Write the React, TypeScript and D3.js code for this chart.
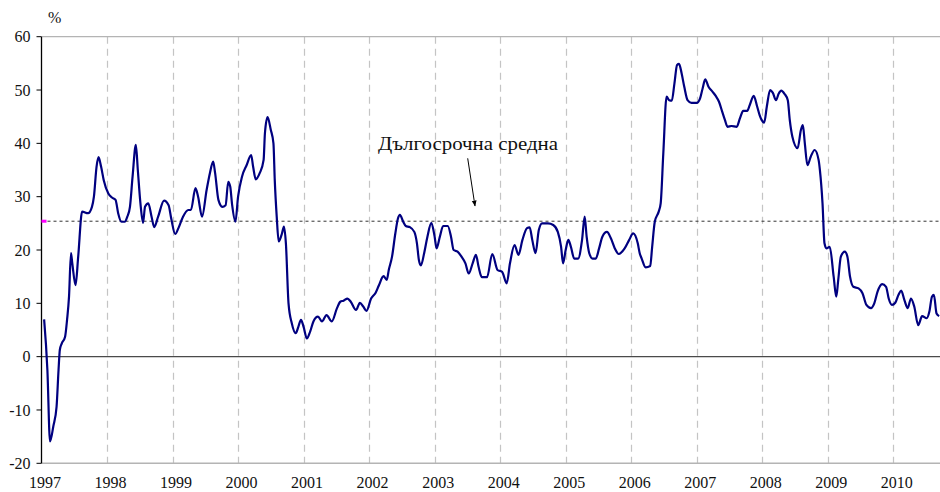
import * as d3 from 'd3';
import { useEffect, useRef } from 'react';

// decimal year of each point
const years = [
  1997.04, 1997.09, 1997.13, 1997.18, 1997.23, 1997.26, 1997.28, 1997.31, 1997.36, 1997.39,
  1997.42, 1997.45, 1997.47, 1997.52, 1997.56, 1997.62, 1997.71, 1997.77, 1997.80, 1997.84,
  1997.87, 1997.91, 1997.95, 1998.02, 1998.08, 1998.13, 1998.17, 1998.22, 1998.27, 1998.31,
  1998.35, 1998.39, 1998.44, 1998.47, 1998.51, 1998.55, 1998.58, 1998.63, 1998.68, 1998.72,
  1998.78, 1998.87, 1998.94, 1998.98, 1999.04, 1999.09, 1999.16, 1999.24, 1999.28, 1999.35,
  1999.39, 1999.45, 1999.52, 1999.57, 1999.62, 1999.65, 1999.70, 1999.76, 1999.81, 1999.85,
  1999.88, 1999.91, 1999.96, 2000.00, 2000.06, 2000.13, 2000.20, 2000.23, 2000.27, 2000.33,
  2000.39, 2000.41, 2000.45, 2000.50, 2000.54, 2000.56, 2000.59, 2000.62, 2000.67, 2000.70,
  2000.73, 2000.77, 2000.82, 2000.88, 2000.92, 2000.96, 2001.00, 2001.05, 2001.10, 2001.15,
  2001.22, 2001.28, 2001.35, 2001.43, 2001.51, 2001.56, 2001.61, 2001.67, 2001.72, 2001.80,
  2001.86, 2001.91, 2001.96, 2002.03, 2002.10, 2002.15, 2002.22, 2002.27, 2002.30, 2002.35,
  2002.40, 2002.44, 2002.47, 2002.52, 2002.56, 2002.62, 2002.69, 2002.73, 2002.76, 2002.79,
  2002.84, 2002.89, 2002.95, 2003.00, 2003.03, 2003.08, 2003.13, 2003.20, 2003.25, 2003.29,
  2003.35, 2003.41, 2003.47, 2003.52, 2003.58, 2003.63, 2003.67, 2003.72, 2003.80, 2003.88,
  2003.96, 2004.03, 2004.10, 2004.15, 2004.22, 2004.28, 2004.34, 2004.41, 2004.45, 2004.49,
  2004.54, 2004.59, 2004.64, 2004.73, 2004.81, 2004.88, 2004.93, 2004.96, 2005.00, 2005.04,
  2005.08, 2005.13, 2005.19, 2005.25, 2005.29, 2005.32, 2005.36, 2005.41, 2005.46, 2005.51,
  2005.56, 2005.63, 2005.69, 2005.75, 2005.81, 2005.90, 2005.97, 2006.03, 2006.10, 2006.13,
  2006.16, 2006.22, 2006.29, 2006.32, 2006.36, 2006.42, 2006.45, 2006.49, 2006.54, 2006.58,
  2006.62, 2006.66, 2006.70, 2006.73, 2006.77, 2006.81, 2006.86, 2006.92, 2007.00, 2007.05,
  2007.09, 2007.13, 2007.18, 2007.24, 2007.29, 2007.34, 2007.39, 2007.43, 2007.47, 2007.53,
  2007.61, 2007.66, 2007.71, 2007.77, 2007.81, 2007.87, 2007.92, 2007.96, 2007.99, 2008.03,
  2008.07, 2008.12, 2008.16, 2008.21, 2008.25, 2008.29, 2008.34, 2008.39, 2008.42, 2008.46,
  2008.54, 2008.59, 2008.62, 2008.65, 2008.69, 2008.74, 2008.80, 2008.86, 2008.88, 2008.92,
  2008.95, 2008.98, 2009.03, 2009.09, 2009.13, 2009.16, 2009.20, 2009.26, 2009.30, 2009.34,
  2009.39, 2009.47, 2009.53, 2009.59, 2009.66, 2009.71, 2009.76, 2009.83, 2009.89, 2009.93,
  2009.98, 2010.03, 2010.08, 2010.12, 2010.17, 2010.22, 2010.27, 2010.32, 2010.38, 2010.44,
  2010.51, 2010.55, 2010.59, 2010.62, 2010.66, 2010.70,
];

// growth, %
const growth = [
  7.0, -2.5, -15.9, -13.1, -9.4, -2.5, 1.3, 2.5, 3.75, 6.9,
  11.25, 19.4, 17.5, 13.4, 18.75, 27.2, 26.9, 28.1, 30, 35.6,
  37.4, 35.6, 33.1, 30.6, 29.8, 29.4, 26.9, 25.3, 25.3, 26.25,
  28.1, 33.75, 39.7, 35, 28.75, 25.1, 28.1, 28.75, 26.25, 24.3,
  26.25, 29.25, 28.4, 25.9, 23, 24.1, 26.25, 27.5, 27.5, 31.6,
  30, 26.25, 31.25, 34.4, 36.6, 34.4, 29.4, 28.1, 28.4, 32.8,
  31.9, 28.4, 25.3, 30, 33.75, 35.9, 37.8, 35.6, 33.25, 34.4,
  36.9, 41.9, 44.9, 42.5, 40, 33.1, 26.25, 21.6, 23.1, 24.4,
  21.25, 10, 6.25, 4.4, 5.6, 6.9, 5.6, 3.4, 4.7, 6.6,
  7.5, 6.6, 7.8, 6.6, 9.1, 10.3, 10.5, 10.9, 10.3, 8.75,
  10.1, 9.4, 8.6, 10.9, 12, 13.4, 15.1, 14.4, 16.25, 18.75,
  23.1, 25.9, 26.6, 25.3, 24.5, 24.3, 23.4, 21.25, 18.1, 17.1,
  19.4, 22.5, 25.1, 22.5, 20.3, 22.5, 24.5, 24.5, 22.5, 20,
  19.7, 18.75, 17.5, 15.6, 17.5, 19.1, 16.9, 14.9, 14.9, 19.25,
  16.25, 15.9, 13.75, 17.5, 20.9, 19.1, 21.9, 24.1, 24.25, 21.9,
  19.4, 23.75, 25, 25, 24.7, 23.4, 20.6, 17.5, 20, 21.9,
  20.6, 18.4, 18.4, 21.9, 26.25, 22.5, 19.4, 18.4, 18.4, 20.3,
  22.5, 23.4, 22.2, 20.3, 19.25, 20.3, 21.9, 23.1, 21.25, 19.4,
  18.4, 16.75, 17, 20.6, 25.3, 27.2, 28.75, 38.1, 48.75, 48.1,
  48, 51.25, 54.7, 54.9, 53.1, 50.6, 48.1, 47.6, 47.6, 48.4,
  50.3, 52, 50.6, 49.7, 48.9, 47.8, 45.9, 44.4, 43.1, 43.25,
  43.1, 44.7, 46.1, 46.1, 47.2, 48.9, 47, 45.3, 44.4, 43.9,
  46.9, 50, 49.5, 48.1, 49.3, 49.9, 49.3, 48.1, 44.4, 41.25,
  39.1, 42.5, 43.4, 40, 35.9, 37.5, 38.75, 36.9, 35, 28.75,
  21.25, 20.3, 20.6, 15, 11.25, 14.4, 18.75, 19.7, 18.75, 15,
  13.1, 12.8, 11.9, 9.7, 9.1, 10, 12.2, 13.6, 13.1, 10.9,
  9.7, 10.1, 11.6, 12.4, 10.6, 9.1, 10.9, 9.4, 5.9, 7.6,
  7.2, 8.4, 11.25, 11.6, 8.1, 7.6,
];

const yearTicks = [1997, 1998, 1999, 2000, 2001, 2002, 2003, 2004, 2005, 2006, 2007, 2008, 2009, 2010];
const valueTicks = [-20, -10, 0, 10, 20, 30, 40, 50, 60];
const longTermAverage = 25.4;
const averageLabel = 'Дългосрочна средна';

export default function App() {
  const svgRef = useRef<SVGSVGElement | null>(null);

  useEffect(() => {
    const W = 940, H = 492;
    const svg = d3.select(svgRef.current);
    svg.selectAll('*').remove();

    const x = d3.scaleLinear().domain([1997, 2010.713]).range([41.5, 940]);
    const y = d3.scaleLinear().domain([-20, 60]).range([463.3, 36.7]);
    const font = '"Liberation Serif", "Times New Roman", serif';

    // vertical dashed gridlines
    svg.append('g')
      .selectAll('line')
      .data(yearTicks.slice(1))
      .enter()
      .append('line')
      .attr('x1', d => Math.round(x(d)) + 0.5).attr('x2', d => Math.round(x(d)) + 0.5)
      .attr('y1', y(60)).attr('y2', y(-20))
      .attr('stroke', '#c4c4c4').attr('stroke-width', 1.2)
      .attr('stroke-dasharray', '7,5');

    // top / bottom frame lines
    svg.append('line')
      .attr('x1', x(1997)).attr('x2', W).attr('y1', y(60)).attr('y2', y(60))
      .attr('stroke', '#b4b4b4').attr('stroke-width', 1.2);
    svg.append('line')
      .attr('x1', x(1997)).attr('x2', W).attr('y1', y(-20)).attr('y2', y(-20))
      .attr('stroke', '#b4b4b4').attr('stroke-width', 1.5);

    // zero line
    svg.append('line')
      .attr('x1', x(1997)).attr('x2', W).attr('y1', y(0)).attr('y2', y(0))
      .attr('stroke', '#4a4a4a').attr('stroke-width', 1.3);

    // y axis
    const yAxis = svg.append('g').attr('transform', `translate(${x(1997)},0)`);
    yAxis.append('line').attr('y1', y(60)).attr('y2', y(-20)).attr('stroke', '#000').attr('stroke-width', 1.3);
    yAxis.selectAll('line.tick')
      .data(valueTicks)
      .enter()
      .append('line')
      .attr('class', 'tick')
      .attr('x1', -5).attr('x2', 0)
      .attr('y1', d => y(d)).attr('y2', d => y(d))
      .attr('stroke', '#000').attr('stroke-width', 1);
    yAxis.selectAll('text')
      .data(valueTicks)
      .enter()
      .append('text')
      .attr('x', -11).attr('y', d => y(d)).attr('dy', '0.35em')
      .attr('text-anchor', 'end')
      .attr('font-family', font).attr('font-size', 16).attr('fill', '#111')
      .text(d => d);

    // x labels
    svg.append('g')
      .selectAll('text')
      .data(yearTicks)
      .enter()
      .append('text')
      .attr('x', d => x(d) + 3.5).attr('y', 488)
      .attr('text-anchor', 'middle')
      .attr('font-family', font).attr('font-size', 16).attr('fill', '#111')
      .text(d => d);

    svg.append('text')
      .attr('x', 48).attr('y', 23)
      .attr('font-family', font).attr('font-size', 16).attr('fill', '#111')
      .text('%');

    // long term average
    svg.append('line')
      .attr('x1', x(1997)).attr('x2', W)
      .attr('y1', y(longTermAverage)).attr('y2', y(longTermAverage))
      .attr('stroke', '#333').attr('stroke-width', 1)
      .attr('stroke-dasharray', '3,3');
    svg.append('rect')
      .attr('x', x(1997)).attr('y', y(longTermAverage) - 1.5)
      .attr('width', 5).attr('height', 3)
      .attr('fill', '#ff00ff');

    // series
    const pts = years.map((yr, i) => [yr, growth[i]] as [number, number]);
    const line = d3.line<[number, number]>()
      .x(d => x(d[0]))
      .y(d => y(d[1]))
      .curve(d3.curveMonotoneX);
    svg.append('path')
      .attr('d', line(pts))
      .attr('fill', 'none')
      .attr('stroke', '#000080')
      .attr('stroke-width', 2.2)
      .attr('stroke-linejoin', 'round');

    // annotation
    svg.append('defs')
      .append('marker')
      .attr('id', 'arrow')
      .attr('viewBox', '0 0 10 10')
      .attr('refX', 9).attr('refY', 5)
      .attr('markerWidth', 6).attr('markerHeight', 6)
      .attr('orient', 'auto')
      .append('path')
      .attr('d', 'M 0 1 L 10 5 L 0 9 z')
      .attr('fill', '#000');
    svg.append('line')
      .attr('x1', 467.7).attr('y1', 158.3)
      .attr('x2', 475).attr('y2', 206)
      .attr('stroke', '#000').attr('stroke-width', 1)
      .attr('marker-end', 'url(#arrow)');
    svg.append('text')
      .attr('x', 378).attr('y', 150)
      .attr('font-family', font).attr('font-size', 19).attr('fill', '#111')
      .attr('textLength', 180).attr('lengthAdjust', 'spacingAndGlyphs')
      .text(averageLabel);

    svg.attr('width', W).attr('height', H);
  }, []);

  return (
    <svg
      ref={svgRef}
      width={940}
      height={492}
      style={{ position: 'absolute', left: 0, top: 0, background: '#fff' }}
    />
  );
}
